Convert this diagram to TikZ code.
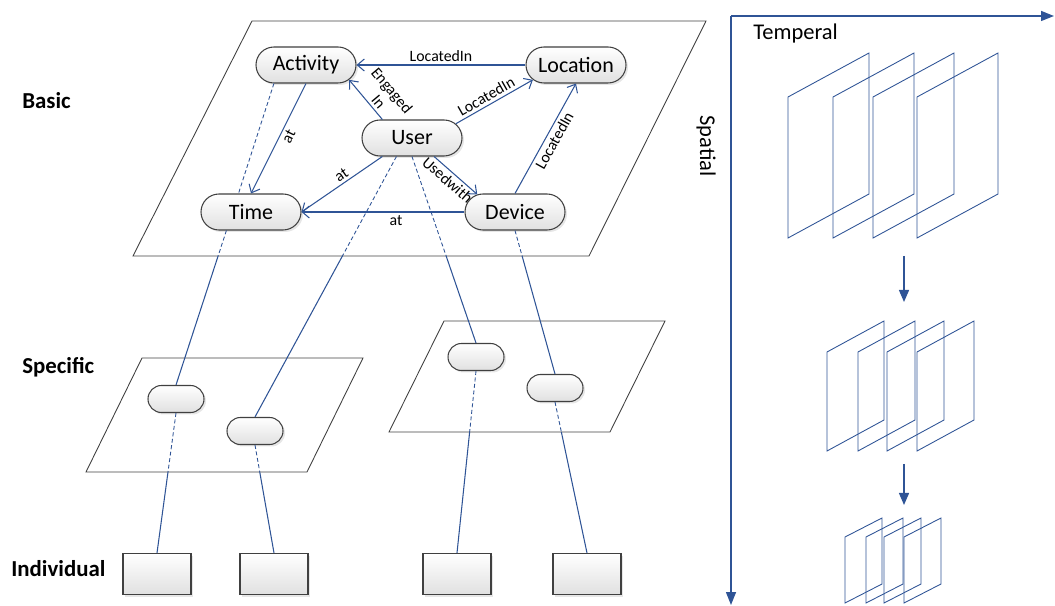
\documentclass[tikz,border=0pt]{standalone}
\usepackage{fontspec}
\setmainfont{Carlito}
\usetikzlibrary{arrows.meta,shapes.misc,shadows,intersections}

\definecolor{linkblue}{RGB}{47,84,150}
\definecolor{framegray}{RGB}{64,64,64}

\tikzset{
  concept/.style={rounded rectangle, draw=framegray, line width=0.6pt,
    top color=white, bottom color=black!12, inner sep=0pt,
    minimum width=20mm, minimum height=7.2mm,
    font=\fontsize{12.5}{14}\selectfont,
    drop shadow={shadow xshift=0.4mm, shadow yshift=-0.4mm, opacity=0.2}},
  instance/.style={concept, minimum width=11.2mm, minimum height=5.4mm},
  indiv/.style={rectangle, draw=framegray, line width=0.6pt,
    top color=white, bottom color=black!12, inner sep=0pt,
    minimum width=13.6mm, minimum height=8.2mm,
    drop shadow={shadow xshift=0.4mm, shadow yshift=-0.4mm, opacity=0.2}},
  plane/.style={draw=framegray, line width=0.5pt},
  rel/.style={draw=linkblue, line width=0.6pt, -{Straight Barb[length=1.4mm,width=2.4mm]}},
  rellabel/.style={font=\fontsize{9}{10}\selectfont, inner sep=1.5pt, text=black},
  link/.style={draw=linkblue, line width=0.6pt},
  dashlink/.style={draw=linkblue, line width=0.5pt, dash pattern=on 0.8mm off 0.5mm},
  level/.style={font=\fontsize{13}{15}\selectfont\bfseries, anchor=west, inner sep=0pt},
  axislabel/.style={font=\fontsize{12.8}{14}\selectfont, inner sep=0pt},
  axis/.style={draw=linkblue, line width=0.8pt, -{Triangle[length=2.6mm,width=2mm]}},
  zoomarrow/.style={draw=linkblue, line width=0.8pt, -{Triangle[length=2.4mm,width=2mm]}},
  frame/.style={draw=linkblue, line width=0.5pt},
}

\begin{document}
\begin{tikzpicture}[x=0.2mm,y=-0.2mm]
\useasboundingbox (0,0) rectangle (1055,606);

\coordinate (bbl) at (133,256);
\coordinate (bbr) at (589,256);
\coordinate (sbl) at (86,472);
\coordinate (sbr) at (307,472);
\coordinate (tbl) at (389,432);
\coordinate (tbr) at (610,432);
\draw[plane] (252,21) -- (706,21) -- (bbr) -- (bbl) -- cycle;
\draw[plane] (142,358) -- (363,358) -- (sbr) -- (sbl) -- cycle;
\draw[plane] (444,321) -- (665,321) -- (tbr) -- (tbl) -- cycle;

\node[level] (basic) at (22,101) {Basic};
\node[level] (specific) at (22,367) {Specific};
\node[level] (individual) at (11,569) {Individual};

\node[concept] (activity) at (306,65) {Activity};
\node[concept] (location) at (576,65) {Location};
\node[concept] (user) at (412,138) {User};
\node[concept] (time) at (251,212) {Time};
\node[concept] (device) at (515,212) {Device};

\node[instance] (a1) at (176,399) {};
\node[instance] (a2) at (255,431) {};
\node[instance] (b1) at (476,357) {};
\node[instance] (b2) at (555,388) {};

\node[indiv] (c1) at (157,574) {};
\node[indiv] (c2) at (274,574) {};
\node[indiv] (c3) at (457,574) {};
\node[indiv] (c4) at (587,574) {};

\draw[rel] (location.west) -- node[rellabel, above] {LocatedIn} (activity.east);
\draw[rel] (user.148) -- node[rellabel, above, sloped, align=center, pos=0.31] {Engaged\\In} (activity.-19);
\draw[rel] (user.18) -- node[rellabel, above, sloped, pos=0.45] {LocatedIn} (location.199);
\draw[rel] (device.north) -- node[rellabel, below, sloped, pos=0.52] {LocatedIn} (location.south);
\draw[rel] (activity.south) -- node[rellabel, below, sloped, pos=0.45] {at} (time.north);
\draw[rel] (user.212) -- node[rellabel, above, sloped, pos=0.45] {at} (time.east);
\draw[rel] (user.-40) -- node[rellabel, below, sloped, pos=0.45] {Usedwith} (device.155);
\draw[rel] (device.west) -- node[rellabel, below, pos=0.42] {at} (time.east);

\draw[dashlink] (activity.210) -- (time.124);
\foreach \from/\to/\el/\er [count=\i] in {time.217/a1.north/bbl/bbr, user.230/a2.north/bbl/bbr,
    user.south/b1.north/bbl/bbr, device.south/b2.north/bbl/bbr,
    a1.south/c1.north/sbl/sbr, a2.south/c2.north/sbl/sbr,
    b1.south/c3.north/tbl/tbr, b2.south/c4.north/tbl/tbr}{
  \path[name path=edge-\i-p] (\el) -- (\er);
  \path[name path=line-\i-p] (\from) -- (\to);
  \path[name intersections={of=edge-\i-p and line-\i-p, by=cut-\i-p}];
  \draw[dashlink] (\from) -- (cut-\i-p);
  \draw[link] (cut-\i-p) -- (\to);
}

\coordinate (orig) at (731,16);
\coordinate (tend) at (1054,16);
\coordinate (send) at (731,605);
\draw[axis] (orig) -- (tend);
\draw[axis] (orig) -- (send);
\node[axislabel, anchor=west] (temperal) at (753,34) {Temperal};
\node[axislabel, rotate=-90] (spatial) at (706,146) {Spatial};

\foreach \x in {788,833,873,917}
  \draw[frame] (\x,238) -- ++(0,-141) -- ++(81,-44) -- ++(0,141) -- cycle;
\foreach \x in {827,858,887,917}
  \draw[frame] (\x,451) -- ++(0,-99) -- ++(57,-31) -- ++(0,99) -- cycle;
\foreach \x in {845,866,884,904}
  \draw[frame] (\x,603) -- ++(0,-66) -- ++(37,-19) -- ++(0,66) -- cycle;

\coordinate (s1) at (904,256);
\coordinate (e1) at (904,302);
\coordinate (s2) at (904,464);
\coordinate (e2) at (904,505);
\draw[zoomarrow] (s1) -- (e1);
\draw[zoomarrow] (s2) -- (e2);
\end{tikzpicture}
\end{document}
